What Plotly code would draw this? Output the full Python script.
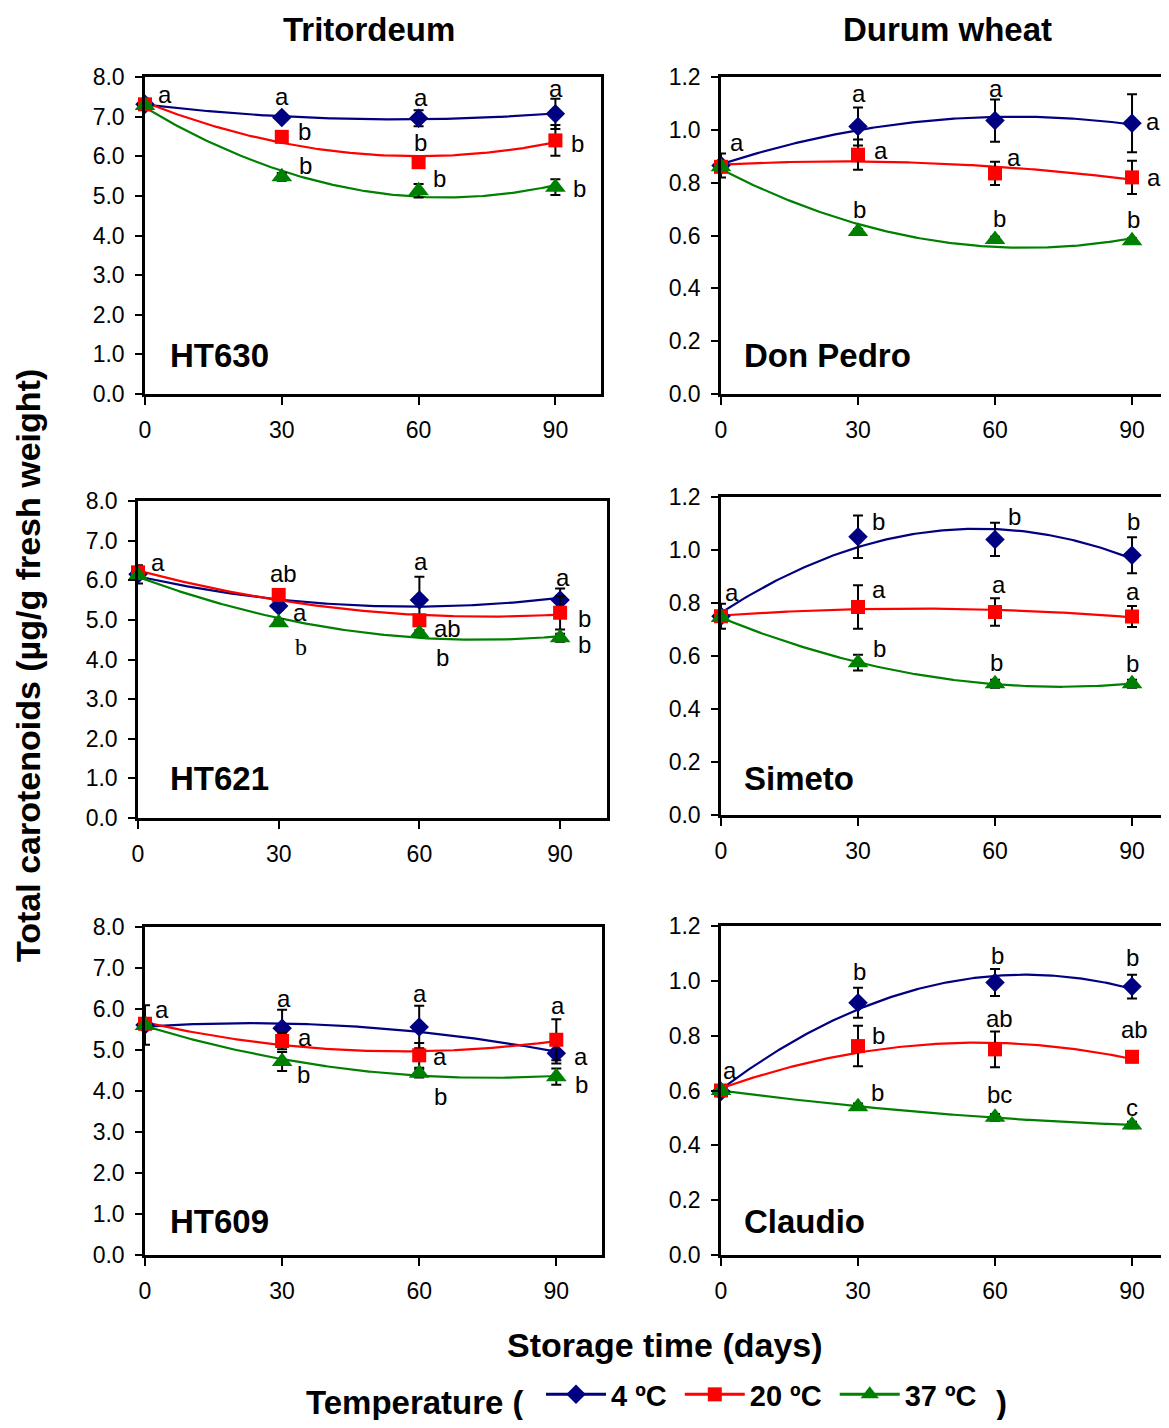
import numpy as np
import plotly.graph_objects as go

# page / figure geometry (browser body margin of 8px compensated)
PAGE_W, PAGE_H = 1169, 1428
OFF = 8
FW, FH = PAGE_W - 2 * OFF, PAGE_H - 2 * OFF
FONT = "Arial, Liberation Sans, sans-serif"

# ---------------- data ----------------
days = [0, 30, 60, 90]
temps = ["4 ºC", "20 ºC", "37 ºC"]
cultivars = ["HT630", "Don Pedro", "HT621", "Simeto", "HT609", "Claudio"]
groups = ["Tritordeum", "Durum wheat"]

ht630_4 = [7.31, 6.98, 6.96, 7.07]
ht630_20 = [7.31, 6.49, 5.85, 6.40]
ht630_37 = [7.28, 5.48, 5.13, 5.22]
ht630_4_err = [0.0, 0.08, 0.20, 0.38]
ht630_20_err = [0.0, 0.05, 0.05, 0.39]
ht630_37_err = [0.0, 0.10, 0.17, 0.20]

donpedro_4 = [0.865, 1.013, 1.035, 1.025]
donpedro_20 = [0.860, 0.906, 0.835, 0.820]
donpedro_37 = [0.860, 0.615, 0.585, 0.580]
donpedro_4_err = [0.045, 0.072, 0.080, 0.110]
donpedro_20_err = [0.0, 0.057, 0.044, 0.063]
donpedro_37_err = [0.0, 0.010, 0.010, 0.010]

ht621_4 = [6.15, 5.35, 5.50, 5.50]
ht621_20 = [6.20, 5.63, 4.99, 5.18]
ht621_37 = [6.12, 4.93, 4.66, 4.55]
ht621_4_err = [0.23, 0.10, 0.59, 0.29]
ht621_20_err = [0.0, 0.10, 0.10, 0.42]
ht621_37_err = [0.0, 0.08, 0.08, 0.10]

simeto_4 = [0.750, 1.050, 1.040, 0.980]
simeto_20 = [0.750, 0.785, 0.766, 0.749]
simeto_37 = [0.745, 0.575, 0.495, 0.495]
simeto_4_err = [0.047, 0.080, 0.063, 0.068]
simeto_20_err = [0.0, 0.082, 0.052, 0.040]
simeto_37_err = [0.0, 0.030, 0.015, 0.015]

ht609_4 = [5.61, 5.53, 5.56, 4.92]
ht609_20 = [5.64, 5.22, 4.87, 5.25]
ht609_37 = [5.60, 4.72, 4.43, 4.35]
ht609_4_err = [0.48, 0.45, 0.52, 0.25]
ht609_20_err = [0.0, 0.20, 0.30, 0.50]
ht609_37_err = [0.0, 0.23, 0.10, 0.20]

claudio_4 = [0.596, 0.920, 0.994, 0.979]
claudio_20 = [0.600, 0.762, 0.750, 0.723]
claudio_37 = [0.600, 0.541, 0.502, 0.474]
claudio_4_err = [0.0, 0.055, 0.049, 0.043]
claudio_20_err = [0.0, 0.074, 0.065, 0.020]
claudio_37_err = [0.0, 0.012, 0.012, 0.012]

# significance letters: (series, day index, letter)
ht630_letters = [(0, 0, "a"), (0, 1, "a"), (0, 2, "a"), (0, 3, "a"),
                 (1, 1, "b"), (1, 2, "b"), (1, 3, "b"),
                 (2, 1, "b"), (2, 2, "b"), (2, 3, "b")]
donpedro_letters = [(0, 0, "a"), (0, 1, "a"), (0, 2, "a"), (0, 3, "a"),
                    (1, 1, "a"), (1, 2, "a"), (1, 3, "a"),
                    (2, 1, "b"), (2, 2, "b"), (2, 3, "b")]
ht621_letters = [(0, 0, "a"), (1, 1, "ab"), (0, 1, "a"), (2, 1, "b"),
                 (0, 2, "a"), (1, 2, "ab"), (2, 2, "b"),
                 (0, 3, "a"), (1, 3, "b"), (2, 3, "b")]
simeto_letters = [(0, 0, "a"), (0, 1, "b"), (0, 2, "b"), (0, 3, "b"),
                  (1, 1, "a"), (1, 2, "a"), (1, 3, "a"),
                  (2, 1, "b"), (2, 2, "b"), (2, 3, "b")]
ht609_letters = [(0, 0, "a"), (0, 1, "a"), (1, 1, "a"), (2, 1, "b"),
                 (0, 2, "a"), (1, 2, "a"), (2, 2, "b"),
                 (1, 3, "a"), (0, 3, "a"), (2, 3, "b")]
claudio_letters = [(1, 0, "a"), (0, 1, "b"), (0, 2, "b"), (0, 3, "b"),
                   (1, 1, "b"), (1, 2, "ab"), (1, 3, "ab"),
                   (2, 1, "b"), (2, 2, "bc"), (2, 3, "c")]

panel_series = [
    ([ht630_4, ht630_20, ht630_37], [ht630_4_err, ht630_20_err, ht630_37_err], ht630_letters),
    ([donpedro_4, donpedro_20, donpedro_37], [donpedro_4_err, donpedro_20_err, donpedro_37_err], donpedro_letters),
    ([ht621_4, ht621_20, ht621_37], [ht621_4_err, ht621_20_err, ht621_37_err], ht621_letters),
    ([simeto_4, simeto_20, simeto_37], [simeto_4_err, simeto_20_err, simeto_37_err], simeto_letters),
    ([ht609_4, ht609_20, ht609_37], [ht609_4_err, ht609_20_err, ht609_37_err], ht609_letters),
    ([claudio_4, claudio_20, claudio_37], [claudio_4_err, claudio_20_err, claudio_37_err], claudio_letters),
]

# ---------------- styling / layout (positions in page px) ----------------
colors = ["#000080", "#FF0000", "#008000"]
symbols = ["diamond", "square", "triangle-up"]
msizes = [15, 14, 18]

PXDAY = 4.567
RIGHT_EDGE = OFF + FW  # right edge of figure on the page
# left, right, top, bottom (page px), y max, y dtick
geom = [
    (145, 601, 77, 394, 8.0, 1.0),
    (721, RIGHT_EDGE, 77, 394, 1.2, 0.2),
    (138, 607, 501, 818, 8.0, 1.0),
    (721, RIGHT_EDGE, 497, 815, 1.2, 0.2),
    (145, 602, 927, 1255, 8.0, 1.0),
    (721, RIGHT_EDGE, 926, 1255, 1.2, 0.2),
]
xmax_list = [100, (RIGHT_EDGE - 721) / PXDAY, 100, (RIGHT_EDGE - 721) / PXDAY,
             100, (RIGHT_EDGE - 721) / PXDAY]

# letter offsets (dx, dy in px, dy positive = down), same order as letter lists
letter_offsets = [
    [(20, -10), (0, -21), (2, -21), (1, -25), (23, -5), (2, -20), (22, 3), (24, -11), (21, -12), (24, 1)],
    [(16, -23), (1, -33), (1, -32), (21, -2), (23, -4), (19, -16), (22, 0), (1, -22), (4, -21), (1, -21)],
    [(20, -12), (5, -21), (21, 6), (22, 24), (2, -39), (28, 8), (23, 24), (3, -23), (24, 6), (24, 7)],
    [(11, -24), (20, -15), (19, -23), (1, -34), (21, -17), (4, -28), (1, -25), (21, -14), (1, -21), (0, -20)],
    [(17, -15), (2, -30), (23, -3), (21, 13), (1, -34), (21, 1), (21, 23), (2, -34), (25, 3), (25, 8)],
    [(9, -20), (1, -31), (2, -27), (0, -29), (20, -11), (4, -31), (2, -27), (19, -14), (4, -23), (0, -18)],
]
serif_letters = {(2, 3)}  # HT621, 4th letter drawn in a serif face

name_pos = [(168, 355), (742, 355), (168, 778), (742, 778), (168, 1221), (742, 1221)]
LEGEND_Y = 1402


def px(x):
    return (x - OFF) / FW


def py(y):
    return 1 - (y - OFF) / FH


fig = go.Figure()
annotations = []
layout_axes = {}

for i, (series, errs, letters) in enumerate(panel_series):
    n = i + 1
    xa = "x" if n == 1 else f"x{n}"
    ya = "y" if n == 1 else f"y{n}"
    l, r, t, b, ymax, dt = geom[i]
    xmax = xmax_list[i]
    right_col = (i % 2 == 1)

    for k in range(3):
        vals = series[k]
        # 2nd-order polynomial trend line fitted to the data
        coef = np.polyfit(days, vals, 2)
        xf = np.linspace(days[0], days[-1], 181)
        yf = np.polyval(coef, xf)
        fig.add_trace(go.Scatter(x=xf, y=yf, mode="lines", xaxis=xa, yaxis=ya,
                                 line=dict(color=colors[k], width=2.2),
                                 showlegend=False, hoverinfo="skip"))
    for k in range(3):
        fig.add_trace(go.Scatter(
            x=days, y=series[k], mode="markers", xaxis=xa, yaxis=ya,
            marker=dict(symbol=symbols[k], size=msizes[k], color=colors[k],
                        line=dict(width=0)),
            error_y=dict(type="data", array=errs[k], visible=True,
                         color="black", thickness=2, width=5),
            showlegend=False, cliponaxis=False))

    for j, (k, d, txt) in enumerate(letters):
        dx, dy = letter_offsets[i][j]
        fam = "Times New Roman, Liberation Serif, serif" if (i, j) in serif_letters else FONT
        annotations.append(dict(
            x=days[d], y=series[k][d], xref=xa, yref=ya, text=txt,
            xanchor="center", yanchor="middle",
            showarrow=False, xshift=dx, yshift=-dy,
            font=dict(size=24, family=fam, color="black")))

    nx, ny = name_pos[i]
    annotations.append(dict(
        x=px(nx), y=py(ny), xref="paper", yref="paper", xanchor="left",
        yanchor="middle", text=f"<b>{cultivars[i]}</b>", showarrow=False,
        font=dict(size=33, family=FONT, color="black")))

    xkey = "xaxis" if n == 1 else f"xaxis{n}"
    ykey = "yaxis" if n == 1 else f"yaxis{n}"
    layout_axes[xkey] = dict(
        domain=[px(l), min(1.0, px(r))], range=[0, xmax], anchor=ya,
        tickvals=days, ticktext=[str(d) for d in days], automargin=False,
        ticks="outside", ticklen=8, tickwidth=2, tickcolor="black",
        showline=True, linewidth=2.5, linecolor="black", mirror=True,
        showgrid=False, zeroline=False, ticklabelstandoff=6,
        tickfont=dict(size=23, family=FONT, color="black"))
    layout_axes[ykey] = dict(
        domain=[py(b), py(t)], range=[0, ymax], anchor=xa, dtick=dt,
        tick0=0, tickformat=".1f", automargin=False,
        ticks="outside", ticklen=7, tickwidth=2, tickcolor="black",
        showline=True, linewidth=2.5, linecolor="black",
        mirror=(False if right_col else True),
        showgrid=False, zeroline=False, ticklabelstandoff=6,
        tickfont=dict(size=23, family=FONT, color="black"))

# legend entries
for k in range(3):
    fig.add_trace(go.Scatter(
        x=[None], y=[None], mode="lines+markers",
        name=f"<b>{temps[k]}</b>\u00a0",
        marker=dict(symbol=symbols[k], size=msizes[k], color=colors[k]),
        line=dict(color=colors[k], width=3), showlegend=True))

# column titles, axis titles and legend caption
annotations += [
    dict(x=px(369), y=py(30), xref="paper", yref="paper", text=f"<b>{groups[0]}</b>",
         xanchor="center", yanchor="middle",
         showarrow=False, font=dict(size=33, family=FONT, color="black")),
    dict(x=px(947), y=py(30), xref="paper", yref="paper", text=f"<b>{groups[1]}</b>",
         xanchor="center", yanchor="middle",
         showarrow=False, font=dict(size=33, family=FONT, color="black")),
    dict(x=px(28), y=py(666), xref="paper", yref="paper", textangle=-90,
         xanchor="center", yanchor="middle",
         text="<b>Total carotenoids (µg/g fresh weight)</b>",
         showarrow=False, font=dict(size=34, family=FONT, color="black")),
    dict(x=px(665), y=py(1345), xref="paper", yref="paper",
         xanchor="center", yanchor="middle",
         text="<b>Storage time (days)</b>",
         showarrow=False, font=dict(size=34, family=FONT, color="black")),
    dict(x=px(304), y=py(LEGEND_Y), xref="paper", yref="paper",
         text="<b>Temperature (</b>", xanchor="left", yanchor="middle",
         showarrow=False, font=dict(size=33, family=FONT, color="black")),
    dict(x=px(1001), y=py(LEGEND_Y), xref="paper", yref="paper", text="<b>)</b>",
         xanchor="center", yanchor="middle",
         showarrow=False, font=dict(size=33, family=FONT, color="black")),
]

fig.update_layout(
    template="none",
    width=FW, height=FH, margin=dict(l=0, r=0, t=0, b=0, pad=0, autoexpand=False),
    paper_bgcolor="white", plot_bgcolor="white",
    font=dict(family=FONT, color="black"),
    annotations=annotations,
    showlegend=True,
    legend=dict(orientation="h", x=px(541), y=0, xanchor="left",
                yanchor="bottom", itemwidth=60, traceorder="normal",
                bgcolor="rgba(0,0,0,0)", borderwidth=0,
                font=dict(size=29, family=FONT, color="black")),
    **layout_axes,
)

fig.write_html("out.html")
